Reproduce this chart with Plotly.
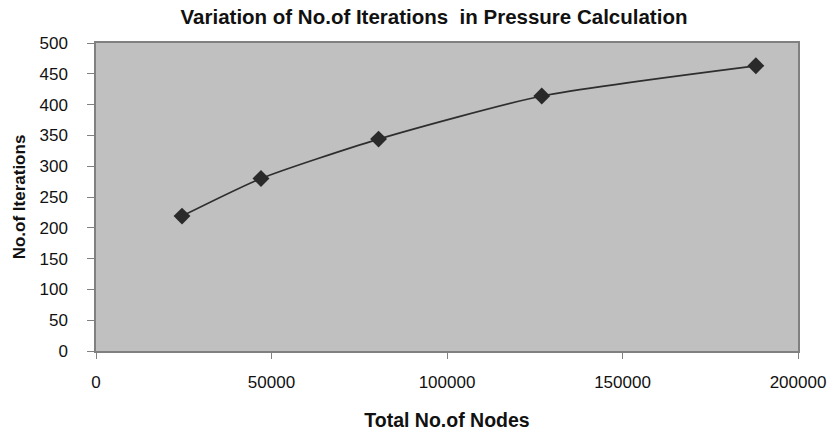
import plotly.graph_objects as go

total_nodes = [24500, 47000, 80500, 127000, 188000]
iterations = [219, 280, 344, 414, 463]

x_ticks = [0, 50000, 100000, 150000, 200000]
y_ticks = [0, 50, 100, 150, 200, 250, 300, 350, 400, 450, 500]

FONT = "Liberation Sans, Arial, sans-serif"

fig = go.Figure()
fig.add_trace(go.Scatter(
    x=total_nodes, y=iterations,
    mode="lines+markers",
    line=dict(color="#2e2e2e", width=1.7, shape="spline", smoothing=0.6),
    marker=dict(symbol="diamond", size=13, color="#2a2a2a"),
    showlegend=False,
))

fig.update_layout(
    width=833, height=432,
    margin=dict(l=96, r=35, t=43, b=81),
    paper_bgcolor="white",
    plot_bgcolor="#c0c0c0",
    font=dict(family=FONT, size=17, color="#111111"),
    title=dict(
        text="<b>Variation of No.of Iterations  in Pressure Calculation</b>",
        x=0.521, xanchor="center", y=0.96, yanchor="middle",
        font=dict(family=FONT, size=20.5, color="#111111"),
    ),
    xaxis=dict(
        range=[0, 200000], tickvals=x_ticks, ticktext=[str(v) for v in x_ticks],
        showgrid=False, zeroline=False, automargin=False,
        showline=True, linecolor="#808080", linewidth=1.5, mirror=True,
        ticks="outside", ticklen=6, tickcolor="#808080",
        ticklabelstandoff=9,
        title=dict(text="<b>Total No.of Nodes</b>", standoff=22,
                   font=dict(family=FONT, size=19.5)),
    ),
    yaxis=dict(
        range=[0, 500], tickvals=y_ticks, ticktext=[str(v) for v in y_ticks],
        showgrid=False, zeroline=False, automargin=False,
        showline=True, linecolor="#808080", linewidth=1.5, mirror=True,
        ticks="outside", ticklen=7, tickcolor="#808080",
        ticklabelstandoff=16,
        title=dict(text="<b>No.of Iterations</b>", standoff=10,
                   font=dict(family=FONT, size=17)),
    ),
)

fig.write_html("out.html")
